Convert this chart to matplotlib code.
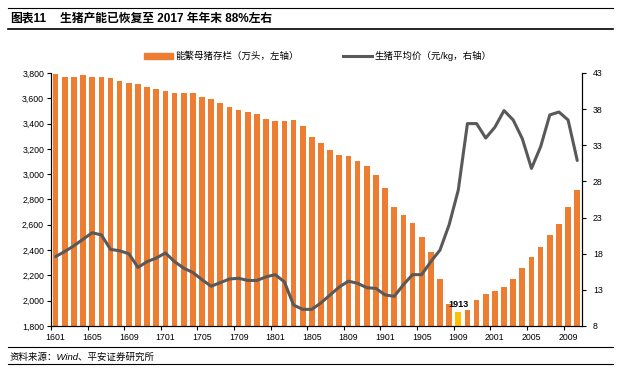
import numpy as np
import matplotlib
matplotlib.use('Agg')
import matplotlib.pyplot as plt
from matplotlib.patches import Patch
from matplotlib.lines import Line2D

plt.rcParams['font.family'] = ['Liberation Sans', 'Noto Sans CJK SC', 'DejaVu Sans']

# months 2016-01 .. 2020-10, labelled yymm
months = [f'{y}{m:02d}' for y in range(16, 21) for m in range(1, 13)][:58]

# sow inventory (10k head, left axis)
sows = [3795, 3771, 3771, 3787, 3771, 3771, 3763, 3739, 3723, 3715, 3692, 3676,
        3660, 3644, 3644, 3644, 3612, 3596, 3565, 3533, 3509, 3493, 3477, 3438,
        3422, 3422, 3430, 3382, 3295, 3247, 3192, 3152, 3144, 3104, 3065, 2993,
        2890, 2739, 2676, 2611, 2505, 2384, 2171, 1974, 1913, 1926, 2005, 2050,
        2076, 2105, 2168, 2255, 2342, 2421, 2518, 2603, 2742, 2875]

# average hog price (yuan/kg, right axis)
price = [17.6, 18.3, 19.1, 20.0, 20.9, 20.6, 18.6, 18.4, 18.0, 16.1, 16.9, 17.4,
         18.1, 16.9, 16.0, 15.4, 14.4, 13.5, 14.0, 14.5, 14.6, 14.3, 14.3, 14.8,
         15.1, 14.1, 10.9, 10.3, 10.3, 11.2, 12.3, 13.4, 14.2, 13.9, 13.3, 13.2,
         12.3, 12.1, 13.7, 15.1, 15.1, 16.9, 18.5, 22.0, 26.8, 36.0, 36.0, 34.0,
         35.5, 37.8, 36.5, 33.9, 29.8, 32.8, 37.2, 37.6, 36.5, 30.9]

highlight = '1909'
orange = '#ED7D31'
yellow = '#FFC000'
grey = '#595959'

fig = plt.figure(figsize=(6.23, 3.72), dpi=100)
ax = fig.add_axes([0.0819, 0.1237, 0.852, 0.6801])
ax2 = ax.twinx()

x = np.arange(len(months))
colors = [yellow if m == highlight else orange for m in months]
ax.bar(x, sows, width=0.62, color=colors, zorder=2)
hi = months.index(highlight)
ax.annotate(str(sows[hi]), (x[hi], sows[hi]), xytext=(0, 2), textcoords='offset points',
            ha='center', va='bottom', fontsize=6.5, fontweight='bold')

ax2.plot(x, price, color=grey, lw=2.2, solid_joinstyle='round', solid_capstyle='round')

ax.set_xlim(-0.5, len(months) - 0.5)
ax.set_ylim(1800, 3800)
ax.set_yticks(range(1800, 3801, 200))
ax.set_yticklabels([f'{v:,}' for v in range(1800, 3801, 200)])
ax2.set_ylim(8, 43)
ax2.set_yticks(range(8, 44, 5))

ax.set_xticks(np.arange(-0.5, len(months), 4))
ax.set_xticklabels([])
ax.set_xticks(x[::4], minor=True)
ax.set_xticklabels(months[::4], minor=True)
ax.tick_params(axis='x', which='major', length=3, width=0.8, direction='out')
ax.tick_params(axis='x', which='minor', length=0, pad=5, labelsize=6.3)
ax.tick_params(axis='y', length=3, width=0.8, pad=2, labelsize=6.3)
ax2.tick_params(axis='y', length=3, width=0.8, pad=5, labelsize=6.3)

for a in (ax, ax2):
    a.spines['top'].set_visible(False)
    for s in ('left', 'right', 'bottom'):
        a.spines[s].set_linewidth(0.8)
        a.spines[s].set_color('black')

handles = [Patch(color=orange), Line2D([], [], color=grey, lw=2.2)]
labels = ['能繁母猪存栏（万头，左轴）', '生猪平均价（元/kg，右轴）']
fig.legend(handles, labels, loc='center', bbox_to_anchor=(0.51, 0.849), ncol=2,
           frameon=False, fontsize=6.8, handlelength=3.1, handleheight=0.55,
           handletextpad=0.3, columnspacing=4.6)

# header / footer rules and text
fig.add_artist(Line2D([8 / 623, 613 / 623], [0.9785, 0.9785], color='black', lw=0.8))
fig.add_artist(Line2D([8 / 623, 613 / 623], [0.921, 0.921], color='black', lw=1.2))
fig.add_artist(Line2D([8 / 623, 613 / 623], [0.068, 0.068], color='black', lw=0.8))
fig.add_artist(Line2D([8 / 623, 613 / 623], [0.0223, 0.0223], color='black', lw=0.8))
fig.text(10 / 623, 0.951, '图表11', fontsize=8.5, fontweight='bold', va='center')
fig.text(60 / 623, 0.951, '生猪产能已恢复至 2017 年年末 88%左右', fontsize=8.5,
         fontweight='bold', va='center')
fig.text(10 / 623, 0.0403, '资料来源：Wind、平安证券研究所', fontsize=6.8, style='italic',
         va='center')

fig.savefig('out.png', dpi=100)
